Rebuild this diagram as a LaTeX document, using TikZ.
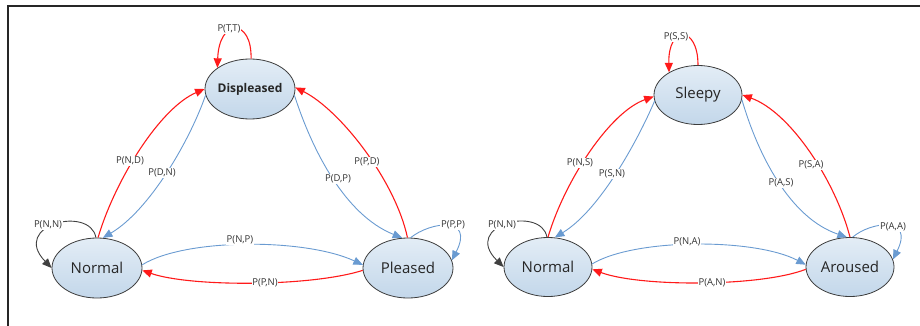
\documentclass[tikz,border=0pt]{standalone}
\usepackage{fontspec}
\setmainfont{Open Sans}
\usetikzlibrary{shapes.geometric,arrows.meta}

\definecolor{redline}{HTML}{FF1A1A}
\definecolor{blueline}{HTML}{6A9BD1}
\definecolor{loopgray}{HTML}{404040}
\definecolor{statetop}{HTML}{E3EDF6}
\definecolor{statebot}{HTML}{C3D7EA}
\definecolor{stateedge}{HTML}{3C3C3C}

\begin{document}
\begin{tikzpicture}[x=1pt,y=-1pt,
  state/.style={ellipse, draw=stateedge, line width=0.8pt,
    top color=statetop, bottom color=statebot,
    minimum width=90pt, minimum height=60pt, inner sep=0pt,
    font=\fontsize{15}{15}\selectfont, text=black!85},
  tip/.style={-{Triangle[length=9.5pt,width=8pt]}},
  redarr/.style={draw=redline, line width=1.1pt, tip},
  bluearr/.style={draw=blueline, line width=0.9pt, tip},
  grayarr/.style={draw=loopgray, line width=0.9pt, tip},
  lbl/.style={fill=white, inner sep=0.8pt, text=black!80,
    font=\fontsize{9.5}{10}\selectfont}]

\useasboundingbox (0,0) rectangle (920,326);

% frame
\draw[line width=1.2pt, black!85] (920,6) -- (8,6) -- (8,326);

% ---------- mood: displeased / normal / pleased ----------
\node[state] (D) at (250,89) {\makebox[0pt]{\bfseries\fontsize{12}{12}\selectfont Displeased}};
\node[state] (N) at (97,268) {\makebox[0pt]{Normal}};
\node[state] (P) at (408,268) {\makebox[0pt]{Pleased}};

\draw[redarr] (D.88) .. controls (252,18) and (219,18) .. (D.147)
  node[lbl] at (229,29) {P(T,T)};
\draw[redarr] (N.88) .. controls (115,180) and (160,108) .. (D.180)
  node[lbl] at (130,161) {P(N,D)};
\draw[bluearr] (D.188) .. controls (190,140) and (150,210) .. (N.79)
  node[lbl] at (162,173) {P(D,N)};
\draw[bluearr] (D.352) .. controls (312,150) and (345,215) .. (P.101)
  node[lbl] at (338,179) {P(D,P)};
\draw[redarr] (P.91) .. controls (395,180) and (340,110) .. (D.2)
  node[lbl] at (367,162) {P(P,D)};
\draw[bluearr] (P.85) .. controls (430,222) and (475,215) .. (P.10)
  node[lbl] at (453,225) {P(P,P)};
\draw[grayarr] (N.92) .. controls (90,205) and (10,225) .. (N.180)
  node[lbl] at (48,225) {P(N,N)};
\draw[bluearr] (N.4) .. controls (185,238) and (305,238) .. (P.176)
  node[lbl] at (240,240) {P(N,P)};
\draw[redarr] (P.183) .. controls (310,287) and (190,287) .. (N.357)
  node[lbl] at (265,283) {P(P,N)};

% ---------- arousal: sleepy / normal / aroused ----------
\node[state, minimum width=88pt, minimum height=59pt] (S) at (698,95) {\makebox[0pt]{Sleepy}};
\node[state, minimum width=88pt, minimum height=59pt] (N2) at (548,267) {\makebox[0pt]{Normal}};
\node[state, minimum width=88pt, minimum height=59pt] (A) at (850,267) {\makebox[0pt]{Aroused}};

\draw[redarr] (S.90) .. controls (698,25) and (668,25) .. (S.142)
  node[lbl] at (676,37) {P(S,S)};
\draw[redarr] (N2.90) .. controls (565,180) and (610,112) .. (S.182)
  node[lbl] at (580,163) {P(N,S)};
\draw[bluearr] (S.188) .. controls (638,140) and (600,210) .. (N2.77)
  node[lbl] at (612,174) {P(S,N)};
\draw[bluearr] (S.354) .. controls (758,155) and (790,218) .. (A.96)
  node[lbl] at (781,183) {P(A,S)};
\draw[redarr] (A.90) .. controls (835,180) and (790,112) .. (S.0)
  node[lbl] at (811,165) {P(S,A)};
\draw[bluearr] (A.85) .. controls (870,222) and (915,215) .. (A.10)
  node[lbl] at (893,227) {P(A,A)};
\draw[grayarr] (N2.92) .. controls (541,205) and (461,225) .. (N2.180)
  node[lbl] at (502,225) {P(N,N)};
\draw[bluearr] (N2.4) .. controls (635,238) and (755,238) .. (A.177)
  node[lbl] at (687,242) {P(N,A)};
\draw[redarr] (A.183) .. controls (760,287) and (640,287) .. (N2.357)
  node[lbl] at (712,283) {P(A,N)};

\end{tikzpicture}
\end{document}
